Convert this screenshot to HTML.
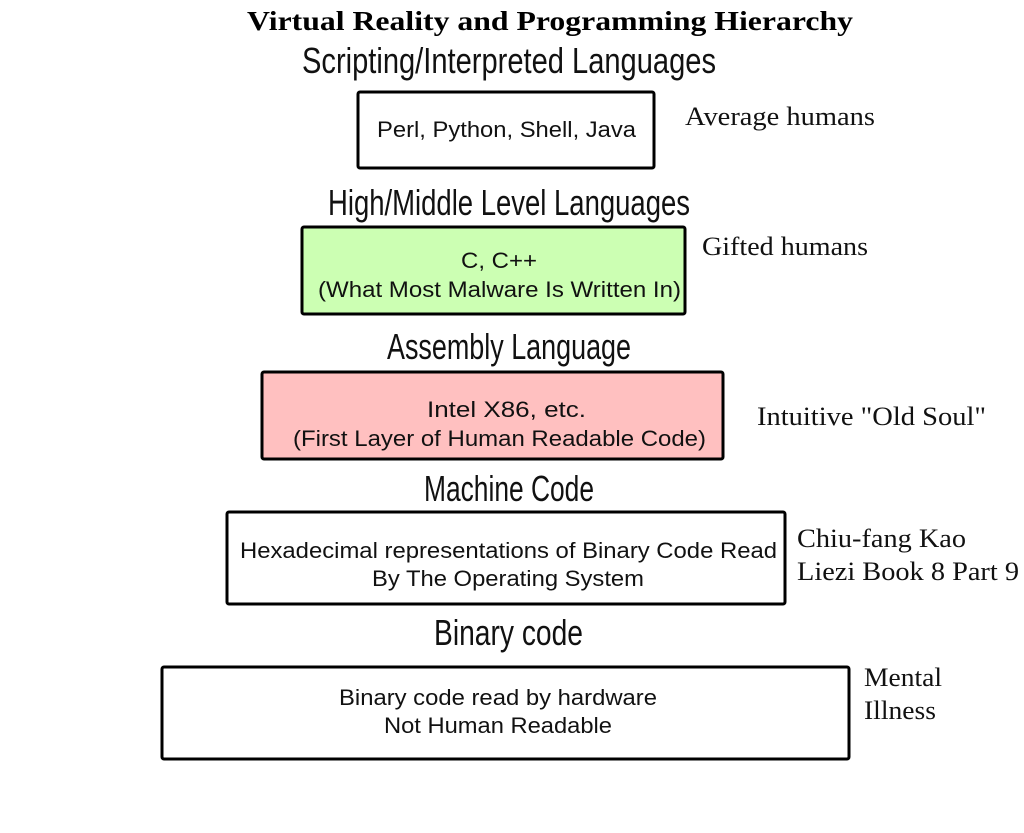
<!DOCTYPE html>
<html><head><meta charset="utf-8"><style>html,body{margin:0;padding:0;background:#fff;}svg{display:block;}</style></head>
<body>
<svg width="1024" height="833" viewBox="0 0 1024 833" xmlns="http://www.w3.org/2000/svg">
<g font-family="Liberation Serif, serif" fill="#000">
<text x="550" y="30" font-size="27" font-weight="bold" text-anchor="middle" textLength="606" lengthAdjust="spacingAndGlyphs">Virtual Reality and Programming Hierarchy</text>
</g>
<g font-family="Liberation Sans Narrow, Liberation Sans, sans-serif" fill="#111" font-size="36">
<text x="302" y="73" textLength="414" lengthAdjust="spacingAndGlyphs">Scripting/Interpreted Languages</text>
<text x="328" y="215" textLength="362" lengthAdjust="spacingAndGlyphs">High/Middle Level Languages</text>
<text x="387" y="359" textLength="244" lengthAdjust="spacingAndGlyphs">Assembly Language</text>
<text x="424" y="501" textLength="170" lengthAdjust="spacingAndGlyphs">Machine Code</text>
<text x="434" y="645" textLength="149" lengthAdjust="spacingAndGlyphs">Binary code</text>
</g>
<g stroke="#000" stroke-width="3">
<rect x="358" y="92" width="296" height="76" rx="2" fill="#fff"/>
<rect x="302" y="227" width="383" height="87" rx="2" fill="#ccffb3"/>
<rect x="262" y="372" width="461" height="87" rx="2" fill="#ffc0c0"/>
<rect x="227" y="512" width="558" height="92" rx="2" fill="#fff"/>
<rect x="162" y="667" width="687" height="92" rx="2" fill="#fff"/>
</g>
<g font-family="Liberation Sans, sans-serif" font-size="22" fill="#111" lengthAdjust="spacingAndGlyphs">
<text x="377" y="137" textLength="259" lengthAdjust="spacingAndGlyphs">Perl, Python, Shell, Java</text>
<text x="461" y="268" textLength="76" lengthAdjust="spacingAndGlyphs">C, C++</text>
<text x="318" y="297" textLength="363" lengthAdjust="spacingAndGlyphs">(What Most Malware Is Written In)</text>
<text x="427" y="417" textLength="159" lengthAdjust="spacingAndGlyphs">Intel X86, etc.</text>
<text x="293" y="446" textLength="413" lengthAdjust="spacingAndGlyphs">(First Layer of Human Readable Code)</text>
<text x="240" y="558" textLength="537" lengthAdjust="spacingAndGlyphs">Hexadecimal representations of Binary Code Read</text>
<text x="372" y="586" textLength="272" lengthAdjust="spacingAndGlyphs">By The Operating System</text>
<text x="339" y="705" textLength="318" lengthAdjust="spacingAndGlyphs">Binary code read by hardware</text>
<text x="384" y="733" textLength="228" lengthAdjust="spacingAndGlyphs">Not Human Readable</text>
</g>
<g font-family="Liberation Serif, serif" font-size="26" fill="#111">
<text x="685" y="125" textLength="190" lengthAdjust="spacingAndGlyphs">Average humans</text>
<text x="702" y="255" textLength="166" lengthAdjust="spacingAndGlyphs">Gifted humans</text>
<text x="757" y="425" textLength="229" lengthAdjust="spacingAndGlyphs">Intuitive "Old Soul"</text>
<text x="797" y="547" textLength="169" lengthAdjust="spacingAndGlyphs">Chiu-fang Kao</text>
<text x="797" y="580" textLength="222" lengthAdjust="spacingAndGlyphs">Liezi Book 8 Part 9</text>
<text x="864" y="686" textLength="78" lengthAdjust="spacingAndGlyphs">Mental</text>
<text x="864" y="719" textLength="72" lengthAdjust="spacingAndGlyphs">Illness</text>
</g>
</svg>
</body></html>
